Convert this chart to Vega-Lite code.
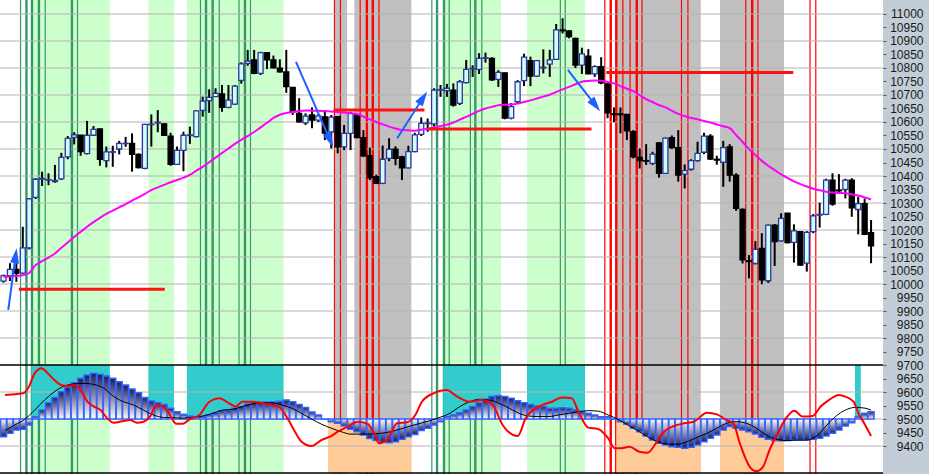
{
"$schema":"https://vega.github.io/schema/vega-lite/v6.json",
"width":883,"height":474,
"autosize":{"type":"none"},
"padding":{"left":0,"top":0,"right":46,"bottom":0},
"background":"#c3cdd7",
"config":{"view":{"stroke":null,"fill":"#ffffff"},
 "axisY":{"grid":false,"domain":false,"ticks":true,"tickSize":3,"tickColor":"#555555","labelAlign":"right","labelPadding":37,"labelFont":"Liberation Sans","labelFontSize":12,"labelColor":"#1a1a1a","labelOverlap":false,"labelFlush":false,"labelBound":false,"labelBaseline":"middle","title":null}},
"datasets":{
"candles":[
{"i":0,"o":10011,"h":10035,"l":10005,"c":10031,"ma":10027,"hist":9434},
{"i":1,"o":10031,"h":10077,"l":10011,"c":10054,"ma":10028,"hist":9447},
{"i":2,"o":10054,"h":10077,"l":10008,"c":10040,"ma":10030,"hist":9459},
{"i":3,"o":10040,"h":10212,"l":10037,"c":10134,"ma":10032,"hist":9462},
{"i":4,"o":10134,"h":10318,"l":10128,"c":10315,"ma":10041,"hist":9478},
{"i":5,"o":10321,"h":10392,"l":10315,"c":10388,"ma":10070,"hist":9508},
{"i":6,"o":10388,"h":10416,"l":10363,"c":10391,"ma":10085,"hist":9533},
{"i":7,"o":10385,"h":10410,"l":10366,"c":10387,"ma":10098,"hist":9560},
{"i":8,"o":10379,"h":10441,"l":10375,"c":10384,"ma":10113,"hist":9580},
{"i":9,"o":10389,"h":10486,"l":10385,"c":10469,"ma":10134,"hist":9601},
{"i":10,"o":10471,"h":10548,"l":10462,"c":10539,"ma":10154,"hist":9617},
{"i":11,"o":10543,"h":10562,"l":10517,"c":10552,"ma":10174,"hist":9634},
{"i":12,"o":10551,"h":10552,"l":10475,"c":10490,"ma":10193,"hist":9651},
{"i":13,"o":10483,"h":10604,"l":10480,"c":10551,"ma":10212,"hist":9663},
{"i":14,"o":10551,"h":10585,"l":10548,"c":10573,"ma":10229,"hist":9669},
{"i":15,"o":10574,"h":10576,"l":10438,"c":10462,"ma":10245,"hist":9666},
{"i":16,"o":10457,"h":10509,"l":10432,"c":10489,"ma":10260,"hist":9659},
{"i":17,"o":10488,"h":10512,"l":10434,"c":10490,"ma":10272,"hist":9651},
{"i":18,"o":10500,"h":10530,"l":10480,"c":10521,"ma":10284,"hist":9638},
{"i":19,"o":10520,"h":10545,"l":10508,"c":10521,"ma":10296,"hist":9626},
{"i":20,"o":10521,"h":10558,"l":10416,"c":10480,"ma":10309,"hist":9611},
{"i":21,"o":10480,"h":10484,"l":10428,"c":10431,"ma":10321,"hist":9597},
{"i":22,"o":10428,"h":10593,"l":10425,"c":10591,"ma":10334,"hist":9580},
{"i":23,"o":10590,"h":10628,"l":10509,"c":10592,"ma":10348,"hist":9567},
{"i":24,"o":10596,"h":10644,"l":10562,"c":10599,"ma":10358,"hist":9560},
{"i":25,"o":10593,"h":10595,"l":10550,"c":10551,"ma":10367,"hist":9554},
{"i":26,"o":10548,"h":10560,"l":10438,"c":10443,"ma":10377,"hist":9540},
{"i":27,"o":10443,"h":10509,"l":10441,"c":10495,"ma":10385,"hist":9527},
{"i":28,"o":10495,"h":10564,"l":10418,"c":10551,"ma":10394,"hist":9518},
{"i":29,"o":10550,"h":10583,"l":10519,"c":10552,"ma":10404,"hist":9511},
{"i":30,"o":10546,"h":10644,"l":10543,"c":10641,"ma":10420,"hist":9508},
{"i":31,"o":10643,"h":10694,"l":10620,"c":10677,"ma":10434,"hist":9508},
{"i":32,"o":10679,"h":10721,"l":10634,"c":10691,"ma":10451,"hist":9515},
{"i":33,"o":10694,"h":10725,"l":10694,"c":10706,"ma":10468,"hist":9523},
{"i":34,"o":10704,"h":10737,"l":10638,"c":10654,"ma":10485,"hist":9531},
{"i":35,"o":10654,"h":10737,"l":10651,"c":10681,"ma":10502,"hist":9533},
{"i":36,"o":10666,"h":10737,"l":10663,"c":10733,"ma":10519,"hist":9540},
{"i":37,"o":10754,"h":10821,"l":10742,"c":10815,"ma":10534,"hist":9546},
{"i":38,"o":10817,"h":10867,"l":10808,"c":10826,"ma":10548,"hist":9556},
{"i":39,"o":10830,"h":10867,"l":10777,"c":10780,"ma":10563,"hist":9560},
{"i":40,"o":10780,"h":10860,"l":10774,"c":10857,"ma":10580,"hist":9562},
{"i":41,"o":10857,"h":10857,"l":10796,"c":10830,"ma":10597,"hist":9562},
{"i":42,"o":10830,"h":10846,"l":10799,"c":10801,"ma":10615,"hist":9563},
{"i":43,"o":10799,"h":10832,"l":10783,"c":10786,"ma":10627,"hist":9566},
{"i":44,"o":10786,"h":10867,"l":10708,"c":10731,"ma":10633,"hist":9570},
{"i":45,"o":10728,"h":10728,"l":10626,"c":10638,"ma":10637,"hist":9564},
{"i":46,"o":10632,"h":10688,"l":10598,"c":10601,"ma":10641,"hist":9554},
{"i":47,"o":10597,"h":10632,"l":10589,"c":10622,"ma":10643,"hist":9543},
{"i":48,"o":10626,"h":10654,"l":10577,"c":10607,"ma":10642,"hist":9526},
{"i":49,"o":10607,"h":10630,"l":10600,"c":10623,"ma":10642,"hist":9515},
{"i":50,"o":10619,"h":10644,"l":10533,"c":10559,"ma":10640,"hist":9499},
{"i":51,"o":10563,"h":10626,"l":10502,"c":10618,"ma":10639,"hist":9490},
{"i":52,"o":10620,"h":10622,"l":10484,"c":10508,"ma":10637,"hist":9484},
{"i":53,"o":10508,"h":10589,"l":10496,"c":10558,"ma":10635,"hist":9474},
{"i":54,"o":10558,"h":10638,"l":10496,"c":10632,"ma":10632,"hist":9462},
{"i":55,"o":10626,"h":10630,"l":10540,"c":10542,"ma":10630,"hist":9453},
{"i":56,"o":10542,"h":10570,"l":10470,"c":10475,"ma":10620,"hist":9441},
{"i":57,"o":10475,"h":10505,"l":10385,"c":10394,"ma":10610,"hist":9428},
{"i":58,"o":10398,"h":10405,"l":10370,"c":10373,"ma":10600,"hist":9420},
{"i":59,"o":10373,"h":10513,"l":10370,"c":10462,"ma":10591,"hist":9414},
{"i":60,"o":10465,"h":10540,"l":10455,"c":10499,"ma":10583,"hist":9412},
{"i":61,"o":10499,"h":10510,"l":10440,"c":10465,"ma":10576,"hist":9416},
{"i":62,"o":10471,"h":10475,"l":10385,"c":10430,"ma":10570,"hist":9425},
{"i":63,"o":10430,"h":10512,"l":10428,"c":10490,"ma":10569,"hist":9434},
{"i":64,"o":10490,"h":10560,"l":10488,"c":10552,"ma":10568,"hist":9443},
{"i":65,"o":10554,"h":10617,"l":10548,"c":10595,"ma":10571,"hist":9457},
{"i":66,"o":10594,"h":10613,"l":10564,"c":10596,"ma":10575,"hist":9466},
{"i":67,"o":10593,"h":10725,"l":10583,"c":10718,"ma":10580,"hist":9478},
{"i":68,"o":10718,"h":10737,"l":10693,"c":10720,"ma":10585,"hist":9490},
{"i":69,"o":10716,"h":10741,"l":10693,"c":10725,"ma":10590,"hist":9508},
{"i":70,"o":10718,"h":10743,"l":10657,"c":10663,"ma":10598,"hist":9515},
{"i":71,"o":10669,"h":10755,"l":10663,"c":10749,"ma":10609,"hist":9523},
{"i":72,"o":10746,"h":10830,"l":10743,"c":10795,"ma":10619,"hist":9533},
{"i":73,"o":10797,"h":10810,"l":10767,"c":10799,"ma":10630,"hist":9546},
{"i":74,"o":10795,"h":10855,"l":10778,"c":10836,"ma":10641,"hist":9560},
{"i":75,"o":10836,"h":10857,"l":10820,"c":10838,"ma":10650,"hist":9573},
{"i":76,"o":10836,"h":10840,"l":10752,"c":10756,"ma":10656,"hist":9583},
{"i":77,"o":10758,"h":10792,"l":10730,"c":10784,"ma":10662,"hist":9586},
{"i":78,"o":10782,"h":10783,"l":10610,"c":10614,"ma":10664,"hist":9583},
{"i":79,"o":10614,"h":10670,"l":10610,"c":10657,"ma":10665,"hist":9577},
{"i":80,"o":10675,"h":10755,"l":10669,"c":10749,"ma":10668,"hist":9568},
{"i":81,"o":10753,"h":10853,"l":10733,"c":10840,"ma":10674,"hist":9560},
{"i":82,"o":10827,"h":10842,"l":10733,"c":10770,"ma":10680,"hist":9554},
{"i":83,"o":10770,"h":10830,"l":10767,"c":10827,"ma":10687,"hist":9548},
{"i":84,"o":10800,"h":10869,"l":10780,"c":10803,"ma":10694,"hist":9546},
{"i":85,"o":10814,"h":10867,"l":10767,"c":10830,"ma":10701,"hist":9540},
{"i":86,"o":10832,"h":10963,"l":10830,"c":10941,"ma":10711,"hist":9540},
{"i":87,"o":10941,"h":10984,"l":10928,"c":10938,"ma":10721,"hist":9542},
{"i":88,"o":10937,"h":10940,"l":10910,"c":10916,"ma":10730,"hist":9540},
{"i":89,"o":10910,"h":10912,"l":10800,"c":10811,"ma":10740,"hist":9533},
{"i":90,"o":10811,"h":10875,"l":10778,"c":10852,"ma":10749,"hist":9527},
{"i":91,"o":10844,"h":10870,"l":10777,"c":10778,"ma":10752,"hist":9521},
{"i":92,"o":10778,"h":10810,"l":10767,"c":10805,"ma":10754,"hist":9515},
{"i":93,"o":10805,"h":10840,"l":10740,"c":10745,"ma":10753,"hist":9508},
{"i":94,"o":10741,"h":10743,"l":10614,"c":10634,"ma":10748,"hist":9508},
{"i":95,"o":10630,"h":10654,"l":10599,"c":10628,"ma":10743,"hist":9499},
{"i":96,"o":10630,"h":10654,"l":10558,"c":10627,"ma":10733,"hist":9490},
{"i":97,"o":10628,"h":10630,"l":10533,"c":10567,"ma":10723,"hist":9481},
{"i":98,"o":10564,"h":10570,"l":10465,"c":10471,"ma":10714,"hist":9466},
{"i":99,"o":10469,"h":10502,"l":10428,"c":10457,"ma":10699,"hist":9453},
{"i":100,"o":10457,"h":10518,"l":10441,"c":10455,"ma":10685,"hist":9437},
{"i":101,"o":10447,"h":10490,"l":10441,"c":10481,"ma":10674,"hist":9422},
{"i":102,"o":10523,"h":10525,"l":10394,"c":10410,"ma":10663,"hist":9410},
{"i":103,"o":10410,"h":10542,"l":10408,"c":10540,"ma":10654,"hist":9404},
{"i":104,"o":10542,"h":10550,"l":10500,"c":10505,"ma":10642,"hist":9397},
{"i":105,"o":10505,"h":10570,"l":10379,"c":10403,"ma":10630,"hist":9395},
{"i":106,"o":10407,"h":10443,"l":10354,"c":10420,"ma":10622,"hist":9392},
{"i":107,"o":10425,"h":10462,"l":10420,"c":10457,"ma":10615,"hist":9395},
{"i":108,"o":10457,"h":10527,"l":10453,"c":10484,"ma":10610,"hist":9404},
{"i":109,"o":10488,"h":10560,"l":10481,"c":10548,"ma":10604,"hist":9416},
{"i":110,"o":10548,"h":10555,"l":10459,"c":10463,"ma":10598,"hist":9429},
{"i":111,"o":10462,"h":10475,"l":10442,"c":10459,"ma":10591,"hist":9441},
{"i":112,"o":10451,"h":10530,"l":10360,"c":10505,"ma":10584,"hist":9459},
{"i":113,"o":10508,"h":10518,"l":10379,"c":10403,"ma":10577,"hist":9472},
{"i":114,"o":10403,"h":10410,"l":10271,"c":10280,"ma":10552,"hist":9466},
{"i":115,"o":10276,"h":10280,"l":10076,"c":10089,"ma":10526,"hist":9459},
{"i":116,"o":10086,"h":10107,"l":10021,"c":10083,"ma":10500,"hist":9453},
{"i":117,"o":10076,"h":10159,"l":10073,"c":10128,"ma":10478,"hist":9444},
{"i":118,"o":10132,"h":10188,"l":9999,"c":10015,"ma":10456,"hist":9432},
{"i":119,"o":10012,"h":10220,"l":10004,"c":10218,"ma":10438,"hist":9425},
{"i":120,"o":10218,"h":10222,"l":10067,"c":10157,"ma":10422,"hist":9420},
{"i":121,"o":10160,"h":10262,"l":10157,"c":10243,"ma":10406,"hist":9419},
{"i":122,"o":10262,"h":10262,"l":10150,"c":10153,"ma":10393,"hist":9420},
{"i":123,"o":10154,"h":10221,"l":10079,"c":10197,"ma":10380,"hist":9422},
{"i":124,"o":10194,"h":10195,"l":10068,"c":10070,"ma":10370,"hist":9422},
{"i":125,"o":10077,"h":10196,"l":10046,"c":10191,"ma":10361,"hist":9422},
{"i":126,"o":10194,"h":10259,"l":10188,"c":10252,"ma":10353,"hist":9425},
{"i":127,"o":10255,"h":10301,"l":10209,"c":10258,"ma":10347,"hist":9429},
{"i":128,"o":10258,"h":10390,"l":10255,"c":10385,"ma":10342,"hist":9437},
{"i":129,"o":10385,"h":10410,"l":10290,"c":10296,"ma":10339,"hist":9447},
{"i":130,"o":10348,"h":10407,"l":10340,"c":10345,"ma":10337,"hist":9459},
{"i":131,"o":10350,"h":10390,"l":10317,"c":10385,"ma":10336,"hist":9474},
{"i":132,"o":10385,"h":10392,"l":10249,"c":10282,"ma":10332,"hist":9486},
{"i":133,"o":10276,"h":10323,"l":10184,"c":10298,"ma":10328,"hist":9509},
{"i":134,"o":10298,"h":10317,"l":10181,"c":10184,"ma":10321,"hist":9521},
{"i":135,"o":10190,"h":10237,"l":10077,"c":10141,"ma":10313,"hist":9527}
],
"zones":[
{"a":4.35,"b":16.54,"k":"green"},{"a":22.54,"b":26.54,"k":"green"},{"a":28.54,"b":43.57,"k":"green"},{"a":68.43,"b":77.42,"k":"green"},{"a":81.46,"b":90.49,"k":"green"},
{"a":51.5,"b":53.45,"k":"gray"},{"a":54.6,"b":63.46,"k":"gray"},{"a":95.35,"b":108.5,"k":"gray"},{"a":111.5,"b":121.45,"k":"gray"},
{"a":4.35,"b":16.54,"k":"cyan"},{"a":22.54,"b":26.54,"k":"cyan"},{"a":28.54,"b":43.57,"k":"cyan"},{"a":68.43,"b":77.42,"k":"cyan"},{"a":81.46,"b":90.49,"k":"cyan"},{"a":132.5,"b":133.4,"k":"cyan"},
{"a":50.5,"b":63.46,"k":"peach"},{"a":95.35,"b":108.5,"k":"peach"},{"a":111.5,"b":121.45,"k":"peach"}
],
"vlines":[
{"t":2.65,"k":"green","w":"thin"},{"t":6.49,"k":"green","w":"thin"},{"t":11.51,"k":"green","w":"thin"},{"t":30.65,"k":"green","w":"thin"},{"t":33.57,"k":"green","w":"thin"},{"t":36.65,"k":"green","w":"thin"},{"t":38.43,"k":"green","w":"thin"},{"t":66.65,"k":"green","w":"thin"},{"t":69.35,"k":"green","w":"thin"},{"t":72.65,"k":"green","w":"thin"},{"t":74.43,"k":"green","w":"thin"},{"t":86.65,"k":"green","w":"thin"},{"t":87.41,"k":"green","w":"thin"},
{"t":3.57,"k":"green","w":"thick"},{"t":4.43,"k":"green","w":"thick"},{"t":5.51,"k":"green","w":"thick"},{"t":10.65,"k":"green","w":"thick"},{"t":31.51,"k":"green","w":"thick"},{"t":32.54,"k":"green","w":"thick"},{"t":37.57,"k":"green","w":"thick"},{"t":67.46,"k":"green","w":"thick"},{"t":68.54,"k":"green","w":"thick"},{"t":73.42,"k":"green","w":"thick"},
{"t":51.5,"k":"red","w":"thin"},{"t":52.43,"k":"red","w":"thin"},{"t":55.5,"k":"red","w":"thin"},{"t":58.43,"k":"red","w":"thin"},{"t":93.57,"k":"red","w":"thin"},{"t":96.38,"k":"red","w":"thin"},{"t":97.5,"k":"red","w":"thin"},{"t":99.35,"k":"red","w":"thin"},{"t":105.5,"k":"red","w":"thin"},{"t":106.5,"k":"red","w":"thin"},{"t":115.5,"k":"red","w":"thin"},{"t":117.4,"k":"red","w":"thin"},{"t":125.5,"k":"red","w":"thin"},{"t":126.4,"k":"red","w":"thin"},
{"t":56.54,"k":"red","w":"thick"},{"t":57.46,"k":"red","w":"thick"},{"t":94.49,"k":"red","w":"thick"},{"t":95.35,"k":"red","w":"thick"},{"t":98.54,"k":"red","w":"thick"},{"t":116.5,"k":"red","w":"thick"}
],
"grid":[{"g":9400},{"g":9500},{"g":9600},{"g":9800},{"g":9900},{"g":10000},{"g":10100},{"g":10200},{"g":10300},{"g":10400},{"g":10500},{"g":10600},{"g":10700},{"g":10800},{"g":10900},{"g":11000}],
"panel":[{"p":9700},{"p":9300}],
"levels":[{"a":2.38,"b":25.1,"p":9981},{"a":51.35,"b":65.5,"p":10644},{"a":66.1,"b":91.5,"p":10574},{"a":93.8,"b":122.9,"p":10783}],
"arrows":[{"x0":0.74,"y0":9904,"x1":1.88,"y1":10105,"ang":7.75},{"x0":45.51,"y0":10823,"x1":50.83,"y1":10532,"ang":156.25},{"x0":61.26,"y0":10540,"x1":65.29,"y1":10690,"ang":32.8},{"x0":87.82,"y0":10793,"x1":92.12,"y1":10662,"ang":141.5}],
"sig":[{"t":0.23,"v":9457},{"t":1.77,"v":9478},{"t":3.31,"v":9499},{"t":4.85,"v":9533},{"t":6.38,"v":9570},{"t":7.92,"v":9601},{"t":9.46,"v":9622},{"t":11,"v":9630},{"t":12.54,"v":9632},{"t":14.08,"v":9628},{"t":15.62,"v":9614},{"t":17.15,"v":9583},{"t":18.69,"v":9564},{"t":20.23,"v":9552},{"t":21.77,"v":9533},{"t":23.31,"v":9515},{"t":24.85,"v":9506},{"t":26.38,"v":9505},{"t":27.92,"v":9503},{"t":29.46,"v":9506},{"t":31,"v":9511},{"t":32.54,"v":9521},{"t":34.08,"v":9533},{"t":35.62,"v":9536},{"t":37.15,"v":9546},{"t":38.69,"v":9556},{"t":40.23,"v":9560},{"t":41.77,"v":9560},{"t":43.31,"v":9552},{"t":44.85,"v":9540},{"t":46.38,"v":9521},{"t":47.92,"v":9500},{"t":49.46,"v":9481},{"t":51,"v":9466},{"t":52.54,"v":9453},{"t":54.08,"v":9444},{"t":55.62,"v":9444},{"t":57.15,"v":9444},{"t":58.69,"v":9447},{"t":60.23,"v":9453},{"t":61.77,"v":9463},{"t":63.31,"v":9474},{"t":64.85,"v":9484},{"t":66.38,"v":9494},{"t":67.92,"v":9506},{"t":69.46,"v":9521},{"t":71,"v":9546},{"t":72.54,"v":9564},{"t":74.08,"v":9573},{"t":75.62,"v":9570},{"t":77.15,"v":9558},{"t":78.69,"v":9540},{"t":80.23,"v":9521},{"t":81.77,"v":9511},{"t":83.31,"v":9509},{"t":84.85,"v":9509},{"t":86.38,"v":9515},{"t":87.92,"v":9521},{"t":89.46,"v":9527},{"t":91,"v":9531},{"t":92.54,"v":9529},{"t":94.08,"v":9515},{"t":95.62,"v":9499},{"t":97.15,"v":9478},{"t":98.69,"v":9457},{"t":100.23,"v":9434},{"t":101.77,"v":9416},{"t":103.31,"v":9407},{"t":104.85,"v":9407},{"t":106.38,"v":9416},{"t":107.92,"v":9432},{"t":109.46,"v":9447},{"t":111,"v":9466},{"t":112.54,"v":9484},{"t":114.08,"v":9490},{"t":115.62,"v":9484},{"t":117.15,"v":9466},{"t":118.69,"v":9441},{"t":120.23,"v":9425},{"t":121.77,"v":9420},{"t":123.31,"v":9422},{"t":124.85,"v":9422},{"t":126.38,"v":9434},{"t":127.92,"v":9472},{"t":129.46,"v":9509},{"t":131,"v":9533},{"t":132.54,"v":9543},{"t":134.08,"v":9540},{"t":135,"v":9533}],
"osc":[{"t":0.23,"v":9589},{"t":1.77,"v":9592},{"t":3.05,"v":9595},{"t":3.82,"v":9614},{"t":4.85,"v":9669},{"t":5.88,"v":9688},{"t":6.89,"v":9669},{"t":7.92,"v":9644},{"t":8.95,"v":9626},{"t":9.97,"v":9622},{"t":11,"v":9626},{"t":12.03,"v":9607},{"t":13.05,"v":9564},{"t":14.08,"v":9546},{"t":15.11,"v":9533},{"t":16.12,"v":9503},{"t":17.15,"v":9486},{"t":18.69,"v":9493},{"t":19.72,"v":9496},{"t":20.74,"v":9486},{"t":21.77,"v":9490},{"t":22.8,"v":9509},{"t":23.82,"v":9552},{"t":24.85,"v":9546},{"t":25.88,"v":9515},{"t":26.89,"v":9482},{"t":27.92,"v":9482},{"t":28.95,"v":9499},{"t":30.49,"v":9515},{"t":32.03,"v":9564},{"t":33.57,"v":9577},{"t":35.11,"v":9558},{"t":36.12,"v":9546},{"t":37.15,"v":9564},{"t":38.69,"v":9564},{"t":40.74,"v":9556},{"t":42.8,"v":9546},{"t":44.34,"v":9496},{"t":45.35,"v":9453},{"t":46.38,"v":9416},{"t":47.92,"v":9400},{"t":49.46,"v":9422},{"t":51,"v":9437},{"t":52.03,"v":9453},{"t":53.57,"v":9472},{"t":55.11,"v":9490},{"t":56.65,"v":9482},{"t":57.66,"v":9447},{"t":58.43,"v":9410},{"t":59.72,"v":9425},{"t":61.26,"v":9484},{"t":62.8,"v":9488},{"t":64.08,"v":9515},{"t":65.11,"v":9564},{"t":66.89,"v":9595},{"t":68.95,"v":9607},{"t":70.49,"v":9585},{"t":72.54,"v":9564},{"t":74.34,"v":9570},{"t":76.12,"v":9552},{"t":77.66,"v":9478},{"t":80,"v":9437},{"t":81.26,"v":9503},{"t":83.31,"v":9546},{"t":85.35,"v":9564},{"t":86.89,"v":9580},{"t":88.43,"v":9577},{"t":89.46,"v":9527},{"t":91,"v":9468},{"t":92.54,"v":9463},{"t":94.08,"v":9429},{"t":95.11,"v":9392},{"t":96.12,"v":9392},{"t":97.42,"v":9397},{"t":98.95,"v":9379},{"t":100.23,"v":9375},{"t":101.51,"v":9410},{"t":102.8,"v":9453},{"t":104.34,"v":9474},{"t":105.88,"v":9484},{"t":107.42,"v":9490},{"t":109.46,"v":9523},{"t":111,"v":9517},{"t":112.54,"v":9496},{"t":113.57,"v":9484},{"t":114.58,"v":9410},{"t":116.12,"v":9323},{"t":117.15,"v":9307},{"t":118.18,"v":9323},{"t":119.2,"v":9385},{"t":120.49,"v":9447},{"t":121.77,"v":9503},{"t":123.05,"v":9531},{"t":124.34,"v":9509},{"t":125.88,"v":9511},{"t":127.15,"v":9546},{"t":128.43,"v":9570},{"t":129.97,"v":9589},{"t":131,"v":9583},{"t":132.28,"v":9564},{"t":133.05,"v":9521},{"t":134.08,"v":9478},{"t":135,"v":9437}]
},
"layer":[
{"data":{"name":"zones"},"transform":[{"filter":"datum.k === 'green'"}],"mark":{"type":"rect","fill":"#ccffcc"},
 "encoding":{"x":{"field":"a","type":"quantitative","scale":{"domain":[0.23,136.08],"nice":false,"zero":false},"axis":null},"x2":{"field":"b"}}},
{"data":{"name":"zones"},"transform":[{"filter":"datum.k === 'gray'"}],"mark":{"type":"rect","fill":"#c0c0c0"},
 "encoding":{"x":{"field":"a","type":"quantitative","axis":null},"x2":{"field":"b"}}},
{"data":{"name":"vlines"},"transform":[{"filter":"datum.k === 'green' && datum.w === 'thin'"}],"mark":{"type":"rule","stroke":"#339966","strokeWidth":1.2},
 "encoding":{"x":{"field":"t","type":"quantitative","axis":null}}},
{"data":{"name":"vlines"},"transform":[{"filter":"datum.k === 'green' && datum.w === 'thick'"}],"mark":{"type":"rule","stroke":"#339966","strokeWidth":2.4},
 "encoding":{"x":{"field":"t","type":"quantitative","axis":null}}},
{"data":{"name":"vlines"},"transform":[{"filter":"datum.k === 'red' && datum.w === 'thin'"}],"mark":{"type":"rule","stroke":"#ff0000","strokeWidth":1.2},
 "encoding":{"x":{"field":"t","type":"quantitative","axis":null}}},
{"data":{"name":"vlines"},"transform":[{"filter":"datum.k === 'red' && datum.w === 'thick'"}],"mark":{"type":"rule","stroke":"#ff0000","strokeWidth":2.4},
 "encoding":{"x":{"field":"t","type":"quantitative","axis":null}}},
{"data":{"name":"zones"},"transform":[{"filter":"datum.k === 'cyan'"}],"mark":{"type":"rect","fill":"#33cccc"},
 "encoding":{"x":{"field":"a","type":"quantitative","axis":null},"x2":{"field":"b"},
  "y":{"datum":9700,"type":"quantitative","scale":{"domain":[9296.3,11051.85],"nice":false,"zero":false},"axis":{"orient":"right","format":"d","values":[9400,9450,9500,9550,9600,9650,9700,9750,9800,9850,9900,9950,10000,10050,10100,10150,10200,10250,10300,10350,10400,10450,10500,10550,10600,10650,10700,10750,10800,10850,10900,10950,11000]}},"y2":{"datum":9500}}},
{"data":{"name":"zones"},"transform":[{"filter":"datum.k === 'peach'"}],"mark":{"type":"rect","fill":"#ffcc99"},
 "encoding":{"x":{"field":"a","type":"quantitative","axis":null},"x2":{"field":"b"},
  "y":{"datum":9500,"type":"quantitative","axis":{"orient":"right","format":"d","values":[9400,9450,9500,9550,9600,9650,9700,9750,9800,9850,9900,9950,10000,10050,10100,10150,10200,10250,10300,10350,10400,10450,10500,10550,10600,10650,10700,10750,10800,10850,10900,10950,11000]}},"y2":{"datum":9300}}},
{"data":{"name":"grid"},"mark":{"type":"rule","stroke":"#b4b4b4","strokeWidth":1},
 "encoding":{"y":{"field":"g","type":"quantitative","axis":{"orient":"right","format":"d","values":[9400,9450,9500,9550,9600,9650,9700,9750,9800,9850,9900,9950,10000,10050,10100,10150,10200,10250,10300,10350,10400,10450,10500,10550,10600,10650,10700,10750,10800,10850,10900,10950,11000]}}}},
{"data":{"name":"panel"},"mark":{"type":"rule","stroke":"#000000","strokeWidth":1.5},
 "encoding":{"y":{"field":"p","type":"quantitative","axis":{"orient":"right","format":"d","values":[9400,9450,9500,9550,9600,9650,9700,9750,9800,9850,9900,9950,10000,10050,10100,10150,10200,10250,10300,10350,10400,10450,10500,10550,10600,10650,10700,10750,10800,10850,10900,10950,11000]}}}},
{"data":{"name":"candles"},"transform":[{"filter":"datum.hist >= 9500"}],
 "mark":{"type":"bar","orient":"vertical","width":6,"stroke":"#3366ff","strokeWidth":1.5,
  "fill":{"gradient":"linear","x1":0,"y1":0,"x2":0,"y2":1,"stops":[{"offset":0,"color":"#1c1c5c"},{"offset":1,"color":"#ffffff"}]}},
 "encoding":{"x":{"field":"i","type":"quantitative","axis":null,"stack":null},"y":{"field":"hist","type":"quantitative","stack":null,"axis":{"orient":"right","format":"d","values":[9400,9450,9500,9550,9600,9650,9700,9750,9800,9850,9900,9950,10000,10050,10100,10150,10200,10250,10300,10350,10400,10450,10500,10550,10600,10650,10700,10750,10800,10850,10900,10950,11000]}},"y2":{"datum":9500}}},
{"data":{"name":"candles"},"transform":[{"filter":"datum.hist < 9500"}],
 "mark":{"type":"bar","orient":"vertical","width":6,"stroke":"#3366ff","strokeWidth":1.5,
  "fill":{"gradient":"linear","x1":0,"y1":0,"x2":0,"y2":1,"stops":[{"offset":0,"color":"#ffffff"},{"offset":1,"color":"#1c1c5c"}]}},
 "encoding":{"x":{"field":"i","type":"quantitative","axis":null,"stack":null},"y":{"field":"hist","type":"quantitative","stack":null,"axis":{"orient":"right","format":"d","values":[9400,9450,9500,9550,9600,9650,9700,9750,9800,9850,9900,9950,10000,10050,10100,10150,10200,10250,10300,10350,10400,10450,10500,10550,10600,10650,10700,10750,10800,10850,10900,10950,11000]}},"y2":{"datum":9500}}},
{"data":{"name":"sig"},"mark":{"type":"line","stroke":"#000000","strokeWidth":1,"interpolate":"monotone"},
 "encoding":{"x":{"field":"t","type":"quantitative","axis":null},"y":{"field":"v","type":"quantitative","axis":{"orient":"right","format":"d","values":[9400,9450,9500,9550,9600,9650,9700,9750,9800,9850,9900,9950,10000,10050,10100,10150,10200,10250,10300,10350,10400,10450,10500,10550,10600,10650,10700,10750,10800,10850,10900,10950,11000]}}}},
{"data":{"name":"osc"},"mark":{"type":"line","stroke":"#ff0000","strokeWidth":2,"interpolate":"monotone"},
 "encoding":{"x":{"field":"t","type":"quantitative","axis":null},"y":{"field":"v","type":"quantitative","axis":{"orient":"right","format":"d","values":[9400,9450,9500,9550,9600,9650,9700,9750,9800,9850,9900,9950,10000,10050,10100,10150,10200,10250,10300,10350,10400,10450,10500,10550,10600,10650,10700,10750,10800,10850,10900,10950,11000]}}}},
{"data":{"name":"candles"},"mark":{"type":"rule","stroke":"#000000","strokeWidth":2},
 "encoding":{"x":{"field":"i","type":"quantitative","axis":null},"y":{"field":"l","type":"quantitative","axis":{"orient":"right","format":"d","values":[9400,9450,9500,9550,9600,9650,9700,9750,9800,9850,9900,9950,10000,10050,10100,10150,10200,10250,10300,10350,10400,10450,10500,10550,10600,10650,10700,10750,10800,10850,10900,10950,11000]}},"y2":{"field":"h"}}},
{"data":{"name":"candles"},"mark":{"type":"bar","orient":"vertical","width":5,"strokeWidth":1.3},
 "encoding":{"x":{"field":"i","type":"quantitative","axis":null,"stack":null},"y":{"field":"o","type":"quantitative","stack":null,"axis":{"orient":"right","format":"d","values":[9400,9450,9500,9550,9600,9650,9700,9750,9800,9850,9900,9950,10000,10050,10100,10150,10200,10250,10300,10350,10400,10450,10500,10550,10600,10650,10700,10750,10800,10850,10900,10950,11000]}},"y2":{"field":"c"},
  "fill":{"condition":{"test":"datum.c >= datum.o","value":"#ccffff"},"value":"#000000"},
  "stroke":{"condition":{"test":"datum.c >= datum.o","value":"#333399"},"value":"#000000"}}},
{"data":{"name":"candles"},"mark":{"type":"line","stroke":"#ff00ff","strokeWidth":2,"interpolate":"monotone"},
 "encoding":{"x":{"field":"i","type":"quantitative","axis":null},"y":{"field":"ma","type":"quantitative","axis":{"orient":"right","format":"d","values":[9400,9450,9500,9550,9600,9650,9700,9750,9800,9850,9900,9950,10000,10050,10100,10150,10200,10250,10300,10350,10400,10450,10500,10550,10600,10650,10700,10750,10800,10850,10900,10950,11000]}}}},
{"data":{"name":"levels"},"mark":{"type":"rule","stroke":"#ff1111","strokeWidth":3},
 "encoding":{"x":{"field":"a","type":"quantitative","axis":null},"x2":{"field":"b"},"y":{"field":"p","type":"quantitative","axis":{"orient":"right","format":"d","values":[9400,9450,9500,9550,9600,9650,9700,9750,9800,9850,9900,9950,10000,10050,10100,10150,10200,10250,10300,10350,10400,10450,10500,10550,10600,10650,10700,10750,10800,10850,10900,10950,11000]}}}},
{"data":{"name":"arrows"},"mark":{"type":"rule","stroke":"#1f5fff","strokeWidth":2},
 "encoding":{"x":{"field":"x0","type":"quantitative","axis":null},"y":{"field":"y0","type":"quantitative","axis":{"orient":"right","format":"d","values":[9400,9450,9500,9550,9600,9650,9700,9750,9800,9850,9900,9950,10000,10050,10100,10150,10200,10250,10300,10350,10400,10450,10500,10550,10600,10650,10700,10750,10800,10850,10900,10950,11000]}},"x2":{"field":"x1"},"y2":{"field":"y1"}}},
{"data":{"name":"arrows"},"mark":{"type":"point","shape":"M0,-1L0.6,1L-0.6,1Z","filled":true,"color":"#1f5fff","opacity":1,"size":225},
 "encoding":{"x":{"field":"x1","type":"quantitative","axis":null},"y":{"field":"y1","type":"quantitative","axis":{"orient":"right","format":"d","values":[9400,9450,9500,9550,9600,9650,9700,9750,9800,9850,9900,9950,10000,10050,10100,10150,10200,10250,10300,10350,10400,10450,10500,10550,10600,10650,10700,10750,10800,10850,10900,10950,11000]}},"angle":{"field":"ang","type":"quantitative","scale":null}}}
]
}
